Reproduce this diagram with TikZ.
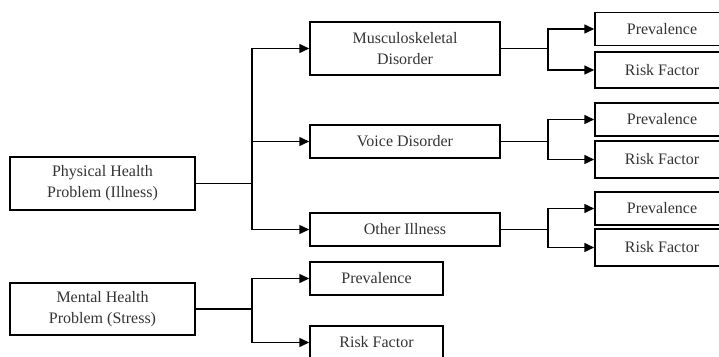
\documentclass[tikz,border=0pt]{standalone}
\usepackage{fontspec}
\setmainfont{Liberation Serif}
\usetikzlibrary{arrows.meta}

\tikzset{
  box/.style={draw, line width=1.5pt, align=center, text=black!80,
    font=\fontsize{16}{21}\selectfont, inner sep=0pt},
  bigbox/.style={box, minimum width=185pt, minimum height=53pt},
  midbox/.style={box, minimum width=190pt, minimum height=33pt},
  leafbox/.style={box, minimum width=134pt, minimum height=33pt},
  link/.style={line width=1.5pt},
  arr/.style={line width=1.5pt, -{Triangle[length=10pt,width=9pt]}}
}

\begin{document}
\begin{tikzpicture}[x=1pt,y=-1pt]
        \useasboundingbox (0,0) rectangle (719,356);

        % left column
        \node[bigbox] (phys) at (102.5,183.5) {Physical Health\\Problem (Illness)};
        \node[bigbox,minimum height=52pt] (ment) at (102.5,309) {Mental Health\\Problem (Stress)};

        % middle column
        \node[midbox,minimum height=53pt] (musc) at (405,48.5) {Musculoskeletal\\Disorder};
        \node[midbox] (voice) at (405,141.5) {Voice Disorder};
        \node[midbox] (other) at (405,229.5) {Other Illness};
        \node[leafbox,minimum width=133pt] (mprev) at (376.5,278.5) {Prevalence};
        \node[leafbox,minimum width=133pt] (mrisk) at (376.5,342.5) {Risk Factor};

        % right column
        \node[leafbox] (prev1) at (662,29) {Prevalence};
        \node[leafbox,minimum height=36pt] (risk1) at (662,70) {Risk Factor};
        \node[leafbox] (prev2) at (662,119.5) {Prevalence};
        \node[leafbox,minimum height=37pt] (risk2) at (662,159.5) {Risk Factor};
        \node[leafbox] (prev3) at (662,208.5) {Prevalence};
        \node[leafbox,minimum height=37pt] (risk3) at (662,247.5) {Risk Factor};

        % junctions
        \coordinate (jphys) at (252,183.5);
        \coordinate (jment) at (252,309);
        \coordinate (jmusc) at (548,48.5);
        \coordinate (jvoice) at (548,141.5);
        \coordinate (jother) at (548,229.5);

        \draw[link] (phys) -- (jphys);
        \draw[arr] (jphys) |- (musc);
        \draw[arr] (jphys) |- (voice);
        \draw[arr] (jphys) |- (other);

        \draw[link] (ment) -- (jment);
        \draw[arr] (jment) |- (mprev);
        \draw[arr] (jment) |- (mrisk);

        \draw[link] (musc) -- (jmusc);
        \draw[arr] (jmusc) |- (prev1);
        \draw[arr] (jmusc) |- (risk1);

        \draw[link] (voice) -- (jvoice);
        \draw[arr] (jvoice) |- (prev2);
        \draw[arr] (jvoice) |- (risk2);

        \draw[link] (other) -- (jother);
        \draw[arr] (jother) |- (prev3);
        \draw[arr] (jother) |- (risk3);
    \end{tikzpicture}
\end{document}
